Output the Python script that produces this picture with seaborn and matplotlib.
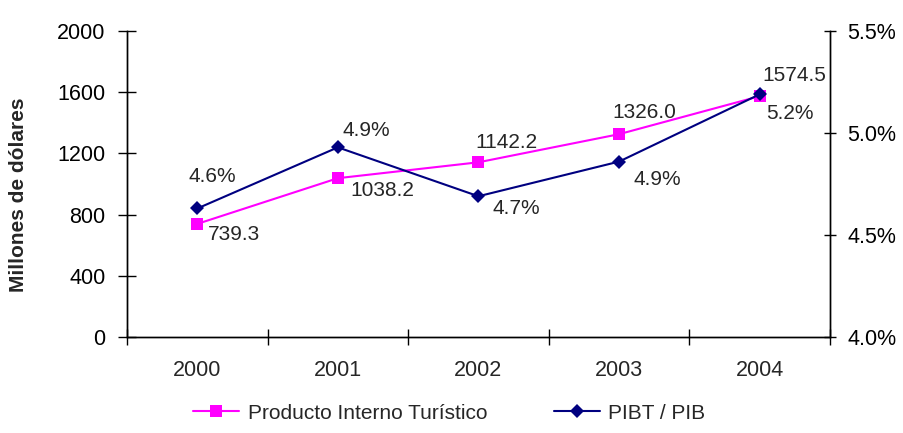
import numpy as np
import pandas as pd
import matplotlib.pyplot as plt
import seaborn as sns
from matplotlib.ticker import FixedLocator, FuncFormatter

years = ['2000', '2001', '2002', '2003', '2004']
pit = [739.3, 1038.2, 1142.2, 1326.0, 1574.5]
pibt_pib = [4.63, 4.93, 4.69, 4.86, 5.19]
pit_labels = ['739.3', '1038.2', '1142.2', '1326.0', '1574.5']
pibt_labels = ['4.6%', '4.9%', '4.7%', '4.9%', '5.2%']

sns.set_style('white')
plt.rcParams['font.family'] = ['Liberation Sans', 'DejaVu Sans']

df = pd.DataFrame({'pos': np.arange(len(years)), 'year': years,
                   'pit': pit, 'ratio': pibt_pib})

fig = plt.figure(figsize=(9.04, 4.33), dpi=100)
ax = fig.add_axes([0.1405, 0.222, 0.7775, 0.706])
ax2 = ax.twinx()

sns.lineplot(data=df, x='pos', y='pit', ax=ax, color='#FF00FF', marker='s',
             markersize=9, markeredgewidth=0, linewidth=1.5,
             label='Producto Interno Turístico', legend=False)
sns.lineplot(data=df, x='pos', y='ratio', ax=ax2, color='#000080', marker='D',
             markersize=7.5, markeredgewidth=0, linewidth=1.5,
             label='PIBT / PIB', legend=False)

ax.set_xlim(-0.5, 4.5)
ax.set_ylim(0, 2000)
ax2.set_ylim(4.0, 5.5)
ax.set_yticks([0, 400, 800, 1200, 1600, 2000])
ax2.set_yticks([4.0, 4.5, 5.0, 5.5])
ax2.yaxis.set_major_formatter(FuncFormatter(lambda v, p: f'{v:.1f}%'))
ax.set_xticks(df['pos'])
ax.set_xticklabels(years)
ax.xaxis.set_minor_locator(FixedLocator(np.arange(-0.5, 5, 1)))

ax.set_xlabel('')
ax.set_ylabel('Millones de dólares', fontsize=15, fontweight='bold')
ax.yaxis.set_label_coords(-0.141, 0.464)
ax2.set_ylabel('')

for a in (ax, ax2):
    a.spines['top'].set_visible(False)
    for s in a.spines.values():
        s.set_color('black')
        s.set_linewidth(1)

ax.tick_params(axis='y', direction='inout', length=13, width=1, labelsize=15.5,
               pad=9, left=True, colors='black')
ax2.tick_params(axis='y', direction='inout', length=9, width=1, labelsize=15.5,
                pad=8, right=True, colors='black')
ax.tick_params(axis='x', which='major', length=0, labelsize=15.5, pad=17)
ax.tick_params(axis='x', which='minor', direction='inout', length=11, width=1,
               bottom=True, color='black')

pit_off = [(11, -11), (13, -12), (-3, 20), (-7, 22), (3, 21)]
ratio_off = [(-9, 32), (5, 17), (14, -12), (14, -18), (7, -19)]
for i in range(len(years)):
    ax.annotate(pit_labels[i], (df['pos'][i], pit[i]), xytext=pit_off[i],
                textcoords='offset pixels', ha='left', va='center', fontsize=15)
    ax2.annotate(pibt_labels[i], (df['pos'][i], pibt_pib[i]), xytext=ratio_off[i],
                 textcoords='offset pixels', ha='left', va='center', fontsize=15)

h1, l1 = ax.get_legend_handles_labels()
h2, l2 = ax2.get_legend_handles_labels()
fig.legend(h1 + h2, l1 + l2, loc='center', bbox_to_anchor=(0.497, 0.046),
           ncol=2, frameon=False, fontsize=15, handlelength=2.2,
           handletextpad=0.4, columnspacing=3.2)

fig.savefig('out.png', dpi=100)
